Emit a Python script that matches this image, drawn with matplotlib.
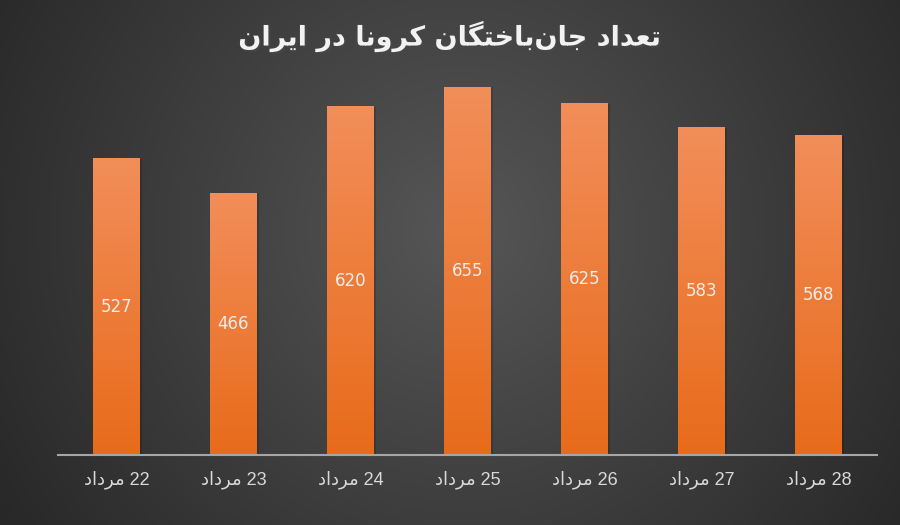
import numpy as np
import matplotlib.pyplot as plt
from matplotlib import patheffects as pe

days = ["22", "23", "24", "25", "26", "27", "28"]
month = "مرداد"
deaths = [527, 466, 620, 655, 625, 583, 568]
title = "تعداد جان\u200cباختگان کرونا در ایران"

# isolated, final, initial, medial
FORMS = {
    "\u0627": ("\uFE8D", "\uFE8E", None, None),
    "\u062F": ("\uFEA9", "\uFEAA", None, None),
    "\u0631": ("\uFEAD", "\uFEAE", None, None),
    "\u0648": ("\uFEED", "\uFEEE", None, None),
    "\u0628": ("\uFE8F", "\uFE90", "\uFE91", "\uFE92"),
    "\u062A": ("\uFE95", "\uFE96", "\uFE97", "\uFE98"),
    "\u062C": ("\uFE9D", "\uFE9E", "\uFE9F", "\uFEA0"),
    "\u062E": ("\uFEA5", "\uFEA6", "\uFEA7", "\uFEA8"),
    "\u0639": ("\uFEC9", "\uFECA", "\uFECB", "\uFECC"),
    "\u0645": ("\uFEE1", "\uFEE2", "\uFEE3", "\uFEE4"),
    "\u0646": ("\uFEE5", "\uFEE6", "\uFEE7", "\uFEE8"),
    "\u06A9": ("\uFB8E", "\uFB8F", "\uFB90", "\uFB91"),
    "\u06AF": ("\uFB92", "\uFB93", "\uFB94", "\uFB95"),
    "\u06CC": ("\uFBFC", "\uFBFD", "\uFBFE", "\uFBFF"),
}


def shape(text):
    # crude arabic shaping + reverse for matplotlib (no bidi support)
    out = []
    for i, ch in enumerate(text):
        if ch not in FORMS:
            out.append(ch)
            continue
        prev = text[i - 1] if i > 0 else ""
        nxt = text[i + 1] if i + 1 < len(text) else ""
        jp = prev in FORMS and FORMS[prev][2] is not None
        jn = FORMS[ch][2] is not None and nxt in FORMS
        f = FORMS[ch]
        if jp and jn:
            out.append(f[3])
        elif jp:
            out.append(f[1])
        elif jn:
            out.append(f[2])
        else:
            out.append(f[0])
    return "".join(c for c in reversed(out) if c != "\u200c")


fig = plt.figure(figsize=(9, 5.25), dpi=100)

# radial background
bg = fig.add_axes([0, 0, 1, 1], zorder=-10)
yy, xx = np.mgrid[0:525, 0:900]
d = np.sqrt(((xx - 460) / 540.0) ** 2 + ((yy - 230) / 540.0) ** 2)
d = np.clip(d, 0, 1)
v = (86 - 46 * d) / 255.0
bg.imshow(np.dstack([v, v, v]), aspect="auto", extent=[0, 1, 0, 1], origin="upper")
bg.axis("off")

ax = fig.add_axes([0.0644, 0.1333, 0.91, 0.749])
ax.patch.set_alpha(0)

x = np.arange(len(deaths))
w = 0.4
top = np.array([0xF2, 0x8E, 0x5A]) / 255.0
bot = np.array([0xE8, 0x6B, 0x1A]) / 255.0
t = np.linspace(0, 1, 256).reshape(-1, 1, 1)
grad = bot + (top - bot) * t

# soft shadows
ax.bar(x + 0.02, deaths, w, color="black", alpha=0.15, zorder=1)
for i, val in enumerate(deaths):
    ax.imshow(grad, extent=[i - w / 2, i + w / 2, 0, val], aspect="auto",
              origin="lower", zorder=2)
    ax.text(i, val / 2, str(val), ha="center", va="center",
            color="#EDEDED", fontsize=12, zorder=3)

ax.set_xlim(-0.5, 6.5)
ax.set_ylim(0, 700)
for s in ["top", "left", "right"]:
    ax.spines[s].set_visible(False)
ax.spines["bottom"].set_color("#A6A6A6")
ax.spines["bottom"].set_linewidth(1.5)
ax.spines["bottom"].set_zorder(4)
ax.set_yticks([])
ax.set_xticks(x)
ax.set_xticklabels([shape(month) + " " + d for d in days], color="#D9D9D9",
                   fontsize=13, family=["Liberation Sans", "DejaVu Sans"])
ax.tick_params(axis="x", length=0, pad=11)

fig.text(0.5, 0.93, shape(title), ha="center", va="center", fontsize=19.5,
         fontweight="bold", color="#F2F2F2",
         path_effects=[pe.withSimplePatchShadow(offset=(1.5, -1.5), alpha=0.6)])

fig.savefig("out.png", dpi=100)
